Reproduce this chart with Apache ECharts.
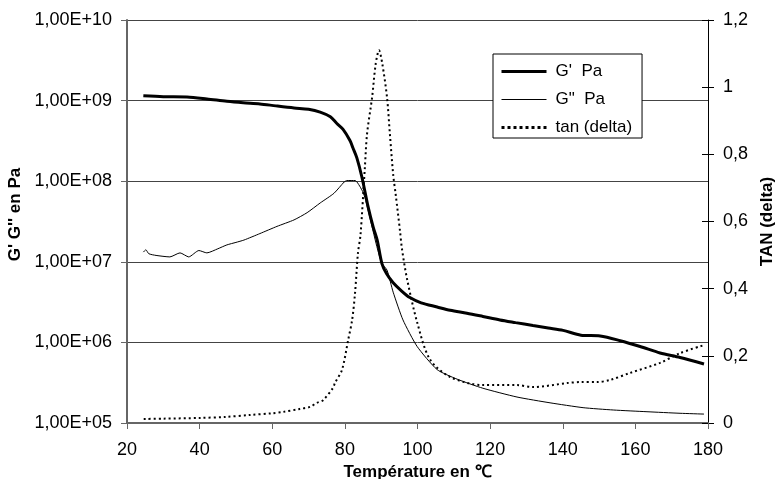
<!DOCTYPE html>
<html>
<head>
<meta charset="utf-8">
<script src="https://cdn.jsdelivr.net/npm/echarts@6/dist/echarts.min.js"></script>
<style>html,body{margin:0;padding:0;background:#fff;}#c{width:779px;height:479px;}</style>
</head>
<body>
<div id="c"></div>
<script>
// Temperature (°C) and G' (Pa)
var tempGp = [24.5,30,36.5,42,47.5,52,56.6,61,66,70,73.2,76,77.8,79.5,81.4,82.2,83.3,84.7,86.4,87.8,88.9,90.2,91.5,93.3,95.5,97.9,101,105.4,109,113.6,118,122.7,127,131.8,136,140.1,145,150.3,155.8,161.3,166.8,172.3,178.9];
var gPrime = [1.15e9,1.12e9,1.11e9,1.05e9,9.8e8,9.4e8,9.1e8,8.6e8,8.1e8,7.8e8,7.2e8,6.3e8,5.2e8,4.4e8,3.2e8,2.6e8,1.95e8,1.12e8,4.8e7,2.7e7,1.86e7,9.5e6,7.1e6,5.5e6,4.4e6,3.6e6,3.1e6,2.75e6,2.5e6,2.3e6,2.1e6,1.9e6,1.76e6,1.62e6,1.51e6,1.41e6,1.23e6,1.2e6,1.05e6,8.9e5,7.4e5,6.5e5,5.4e5];
// Temperature (°C) and G'' (Pa)
var tempGpp = [24.5,25.2,26,28,31.8,34.6,37,39.8,42,45,47.5,50,52.2,56.6,61.3,66,69.6,73.2,77,79.8,80.6,82.8,84.7,85.5,86.5,88.8,90.2,91.6,93.3,96,99.9,105.4,110.9,118,127.4,136.5,145.6,153.9,163.2,172.3,178.9];
var gSecond = [1.32e7,1.41e7,1.26e7,1.2e7,1.15e7,1.29e7,1.15e7,1.38e7,1.29e7,1.45e7,1.62e7,1.74e7,1.86e7,2.24e7,2.75e7,3.31e7,4.07e7,5.37e7,7.08e7,9.77e7,1.02e8,1.02e8,7.76e7,6.3e7,4.17e7,1.55e7,9.5e6,7.9e6,4.2e6,1.9e6,8.9e5,4.6e5,3.5e5,2.7e5,2.1e5,1.78e5,1.55e5,1.45e5,1.38e5,1.32e5,1.29e5];
// Temperature (°C) and tan(delta)
var tempTan = [24.6,30,40,47,53.9,60,63,67.6,70.4,72.3,74,76.7,77.3,79.2,80.9,82,82.8,83.6,84.3,85.5,86.1,87.5,88.5,89.4,90.3,91.6,92.4,93.3,94,95.2,95.7,97.1,99.9,103.4,109,118,127.4,131.8,141.2,145,149.4,153,158.5,166.8,172.3,178.9];
var tanDelta = [0.012,0.013,0.015,0.018,0.024,0.029,0.033,0.042,0.048,0.06,0.068,0.104,0.12,0.158,0.247,0.307,0.387,0.506,0.56,0.76,0.86,0.97,1.07,1.11,1.07,0.97,0.86,0.74,0.68,0.57,0.52,0.43,0.30,0.19,0.137,0.113,0.113,0.107,0.119,0.122,0.122,0.128,0.149,0.179,0.208,0.232];
var xTicks = [20,40,60,80,100,120,140,160,180];
var seriesNames = ["G'  Pa", 'G"  Pa', 'tan (delta)'];

function zip(a, b) { return a.map(function (v, i) { return [v, b[i]]; }); }

var FONT = "'Liberation Sans', Arial, sans-serif";
var chart = echarts.init(document.getElementById('c'), null, { renderer: 'canvas' });
chart.setOption({
  animation: false,
  backgroundColor: '#fff',
  grid: { left: 127, right: 71, top: 20, bottom: 56, containLabel: false, outerBoundsMode: 'none' },
  legend: {
    orient: 'vertical', left: 493, top: 54,
    padding: [7, 10, 0, 7], itemGap: 7, itemWidth: 45, itemHeight: 14,
    backgroundColor: '#fff', borderColor: '#000', borderWidth: 1,
    textStyle: { fontFamily: FONT, fontSize: 17, lineHeight: 21, color: '#000', padding: [0, 0, 0, 4] },
    data: [
      { name: seriesNames[0], itemStyle: { opacity: 0 }, lineStyle: { width: 3, color: '#000' } },
      { name: seriesNames[1], itemStyle: { opacity: 0 }, lineStyle: { width: 1, color: '#000' } },
      { name: seriesNames[2], itemStyle: { opacity: 0 }, lineStyle: { width: 3, color: '#000', type: [3, 3] } }
    ]
  },
  xAxis: {
    type: 'value', min: xTicks[0], max: xTicks[xTicks.length - 1], interval: 20,
    name: 'Température en ℃', nameLocation: 'middle', nameGap: 39,
    nameTextStyle: { fontFamily: FONT, fontSize: 17, fontWeight: 'bold', color: '#000' },
    axisLine: { lineStyle: { color: '#666', width: 2 } },
    axisTick: { length: 6, lineStyle: { color: '#666' } },
    axisLabel: { fontFamily: FONT, fontSize: 18, color: '#000', margin: 18 },
    splitLine: { show: false }
  },
  yAxis: [
    {
      type: 'log', logBase: 10, min: 1e5, max: 1e10, position: 'left',
      name: "G' G'' en Pa", nameLocation: 'middle', nameGap: 95, nameRotate: 90,
      nameTextStyle: { fontFamily: FONT, fontSize: 17, fontWeight: 'bold', color: '#000', padding: [0, 0, 0, 14] },
      axisLine: { show: true, lineStyle: { color: '#666', width: 2 } },
      axisTick: { show: true, length: 6, lineStyle: { color: '#666' } },
      axisLabel: {
        fontFamily: FONT, fontSize: 18, color: '#000', margin: 15,
        formatter: function (v) { var e = Math.round(Math.log10(v)); return '1,00E+' + (e < 10 ? '0' + e : e); }
      },
      splitLine: { show: true, lineStyle: { color: '#444', width: 1 } },
      minorTick: { show: false }
    },
    {
      type: 'value', min: 0, max: 1.2, interval: 0.2, position: 'right',
      name: 'TAN (delta)', nameLocation: 'middle', nameGap: 50, nameRotate: 90,
      nameTextStyle: { fontFamily: FONT, fontSize: 17, fontWeight: 'bold', color: '#000' },
      axisLine: { show: true, lineStyle: { color: '#000', width: 1 } },
      axisTick: { show: true, length: 6, lineStyle: { color: '#000' } },
      axisLabel: {
        fontFamily: FONT, fontSize: 18, color: '#000', margin: 15,
        formatter: function (v) { return String(Math.round(v * 10) / 10).replace('.', ','); }
      },
      splitLine: { show: false }
    },
    {
      type: 'value', min: 0, max: 1.2, interval: 0.2, position: 'right',
      axisLine: { show: false },
      axisTick: { show: true, inside: true, length: 6, lineStyle: { color: '#000' } },
      axisLabel: { show: false },
      splitLine: { show: false }
    }
  ],
  series: [
    {
      name: seriesNames[0], type: 'line', yAxisIndex: 0, symbol: 'none', smooth: 0.3,
      lineStyle: { color: '#000', width: 3 }, itemStyle: { color: '#000' },
      data: zip(tempGp, gPrime), z: 4
    },
    {
      name: seriesNames[1], type: 'line', yAxisIndex: 0, symbol: 'none', smooth: 0.2,
      lineStyle: { color: '#000', width: 1 }, itemStyle: { color: '#000' },
      data: zip(tempGpp, gSecond), z: 3
    },
    {
      name: seriesNames[2], type: 'line', yAxisIndex: 1, symbol: 'none', smooth: 0.3,
      lineStyle: { color: '#000', width: 2, type: [2, 3] }, itemStyle: { color: '#000' },
      data: zip(tempTan, tanDelta), z: 2
    }
  ]
});
</script>
</body>
</html>
